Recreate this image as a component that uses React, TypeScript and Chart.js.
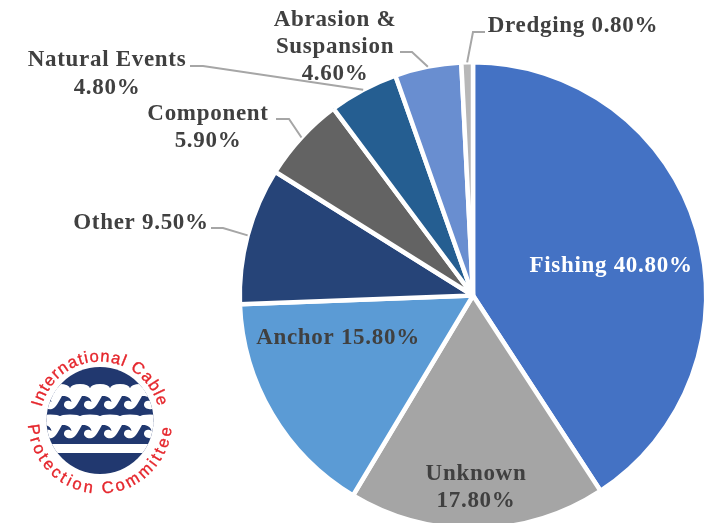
import React, { useEffect, useRef } from "react";
import { Chart, registerables } from "chart.js";

Chart.register(...registerables);

// Causes of submarine cable faults, in percent, clockwise from twelve o'clock.
const causes = ["Fishing", "Unknown", "Anchor", "Other", "Component", "Natural Events", "Abrasion & Suspansion", "Dredging"];
const shares = [40.8, 17.8, 15.8, 9.5, 5.9, 4.8, 4.6, 0.8];
const sliceColors = ["#4472C4", "#A5A5A5", "#5B9BD5", "#264478", "#636363", "#255E91", "#698ED0", "#B7B7B7"];

const FONT = 'bold 23px "Liberation Serif"';
const INK = "#404040";
const LEADER = "#A6A6A6";

type Note = { lines: string[]; x: number; y: number; color: string; lineGap?: number; leader?: [number, number][] };

// One entry per slice: text anchor (centre, first baseline) and the leader's path up to the slice.
const notes: Note[] = [
  { lines: ["Fishing 40.80%"], x: 611, y: 272, color: "#FFFFFF" },
  { lines: ["Unknown", "17.80%"], x: 476, y: 480, color: INK, lineGap: 27 },
  { lines: ["Anchor 15.80%"], x: 338, y: 344, color: INK },
  { lines: ["Other 9.50%"], x: 141, y: 229, color: INK, leader: [[211, 228], [223, 228]] },
  { lines: ["Component", "5.90%"], x: 208, y: 120, color: INK, lineGap: 27, leader: [[276, 119], [289, 119]] },
  { lines: ["Natural Events", "4.80%"], x: 107, y: 66, color: INK, lineGap: 28, leader: [[190, 66], [203, 66]] },
  { lines: ["Abrasion &", "Suspansion", "4.60%"], x: 335, y: 26, color: INK, lineGap: 27, leader: [[400, 52], [412, 52]] },
  { lines: ["Dredging 0.80%"], x: 573, y: 32, color: INK, leader: [[485, 32], [473, 32]] },
];

const sliceNotes = {
  id: "sliceNotes",
  afterDatasetsDraw(chart: Chart) {
    const { ctx } = chart;
    const arcs = chart.getDatasetMeta(0).data as any[];
    ctx.save();
    notes.forEach((note, i) => {
      if (note.leader) {
        const { x, y, startAngle, endAngle, outerRadius } = arcs[i].getProps(["x", "y", "startAngle", "endAngle", "outerRadius"], true);
        const mid = (startAngle + endAngle) / 2;
        ctx.beginPath();
        note.leader.forEach(([px, py], k) => (k ? ctx.lineTo(px, py) : ctx.moveTo(px, py)));
        ctx.lineTo(x + Math.cos(mid) * outerRadius, y + Math.sin(mid) * outerRadius);
        ctx.strokeStyle = LEADER;
        ctx.lineWidth = 2;
        ctx.stroke();
      }
      ctx.font = FONT;
      (ctx as any).letterSpacing = "0.7px";
      ctx.fillStyle = note.color;
      ctx.textAlign = "center";
      ctx.textBaseline = "alphabetic";
      note.lines.forEach((line, k) => ctx.fillText(line, note.x, note.y + k * (note.lineGap ?? 0)));
    });
    ctx.restore();
  },
};

const CREST_XS = [42, 62, 82, 102, 122, 142];
const CAP_SCALLOPS = [60, 80, 100, 120, 140];
const BAND_SCALLOPS = [50, 70, 90, 110, 130, 150];

// White gap between two neighbouring crests, with the curl under the left one.
function curl(x: number, y: number) {
  return `M${x} ${y} C${x + 5} ${y - 0.5} ${x + 9} ${y + 2} ${x + 9.5} ${y + 6} C${x + 7} ${y + 4} ${x + 3} ${y + 4} ${x + 2} ${y + 8} C${x + 1.5} ${y + 12} ${x + 6} ${y + 14} ${x + 10} ${y + 13} C${x + 14} ${y + 12} ${x + 17} ${y + 5} ${x + 20} ${y} L${x + 20} ${y - 3} L${x} ${y - 3} Z`;
}

function Emblem() {
  return (
    <svg width={200} height={190} viewBox="0 330 200 190" style={{ position: "absolute", left: 0, top: 330 }}>
      <defs>
        <clipPath id="disc">
          <circle cx={100} cy={420.5} r={53.5} />
        </clipPath>
        <path id="ringTop" d="M40 421.5 A 60 60 0 0 1 160 421.5" />
        <path id="ringBottom" d="M28 421.5 A 72 72 0 0 0 172 421.5" />
      </defs>
      <g clipPath="url(#disc)">
        <rect x={40} y={360} width={120} height={120} fill="#21386F" />
        <rect x={40} y={388} width={120} height={8} fill="#FFFFFF" />
        <rect x={40} y={416} width={120} height={9} fill="#FFFFFF" />
        <rect x={40} y={444} width={120} height={9} fill="#FFFFFF" />
        {CAP_SCALLOPS.map((x) => (
          <ellipse key={x} cx={x} cy={388.5} rx={10} ry={4.5} fill="#FFFFFF" />
        ))}
        {BAND_SCALLOPS.map((x) => (
          <ellipse key={x} cx={x} cy={416.5} rx={10} ry={2} fill="#FFFFFF" />
        ))}
        {CREST_XS.map((x) => (
          <React.Fragment key={x}>
            <path d={curl(x, 396)} fill="#FFFFFF" />
            <path d={curl(x, 425)} fill="#FFFFFF" />
          </React.Fragment>
        ))}
      </g>
      <g fontFamily="Liberation Sans" fontSize={16.5} fill="#E5262C" stroke="#E5262C" strokeWidth={0.35}>
        <text letterSpacing={1.1}>
          <textPath href="#ringTop" startOffset="50%" textAnchor="middle">International Cable</textPath>
        </text>
        <text letterSpacing={3}>
          <textPath href="#ringBottom" startOffset="50%" textAnchor="middle">Protection Committee</textPath>
        </text>
      </g>
    </svg>
  );
}

export default function App() {
  const ref = useRef<HTMLCanvasElement>(null);
  useEffect(() => {
    const chart = new Chart(ref.current!, {
      type: "pie",
      data: {
        labels: causes,
        datasets: [{ data: shares, backgroundColor: sliceColors, borderColor: "#FFFFFF", borderWidth: 4.5 }],
      },
      options: {
        animation: false,
        responsive: false,
        layout: { padding: { left: 237, right: 2, top: 60, bottom: 4 } },
        plugins: { legend: { display: false }, tooltip: { enabled: false } },
      },
      plugins: [sliceNotes],
    });
    return () => chart.destroy();
  }, []);
  return (
    <div style={{ position: "fixed", inset: 0, overflow: "hidden", background: "#FFFFFF" }}>
      <canvas ref={ref} width={711} height={535} style={{ position: "absolute", left: 0, top: 0 }} />
      <Emblem />
    </div>
  );
}
